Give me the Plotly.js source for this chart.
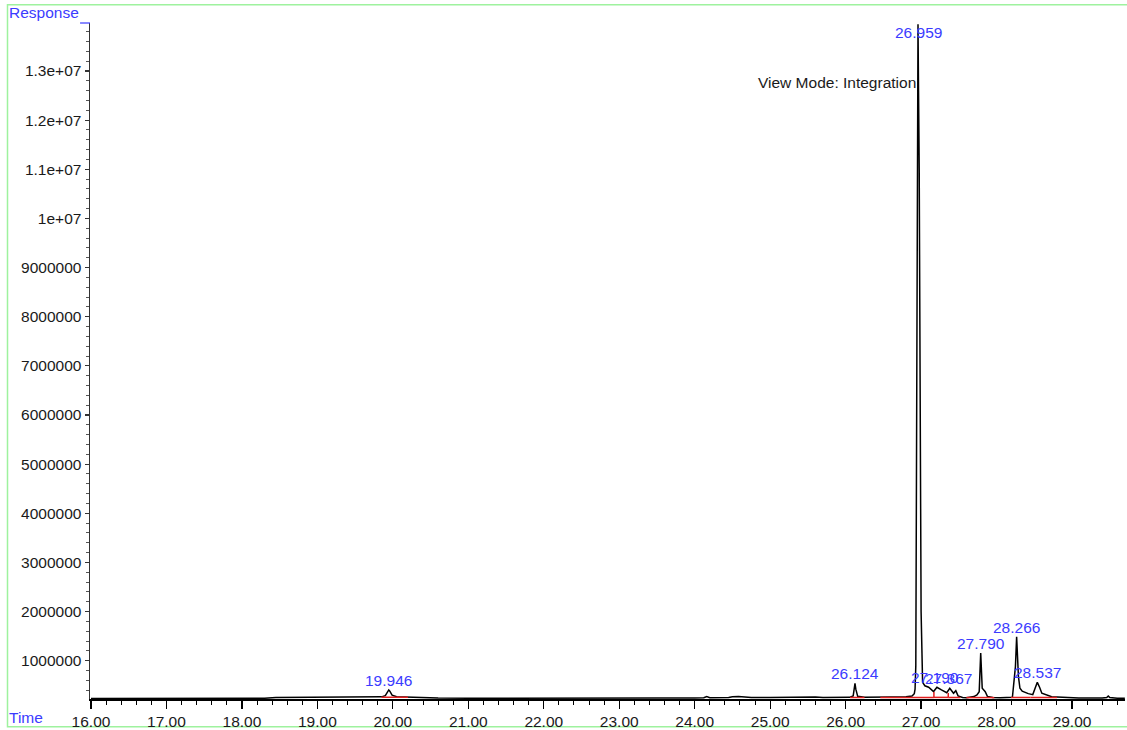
<!DOCTYPE html>
<html>
<head>
<meta charset="utf-8">
<script src="https://cdn.plot.ly/plotly-3.0.1.min.js"></script>
<style>html,body{margin:0;padding:0;background:#fff;}#chart{width:1127px;height:730px;}</style>
</head>
<body>
<div id="chart"></div>
<script>
// Chromatogram trace (time in minutes, response counts)
const times = [16.00, 17.00, 18.00, 18.30, 18.45, 18.80, 19.20, 19.60, 19.85, 19.90, 19.93, 19.946, 19.96, 19.99, 20.05, 20.20, 20.40, 20.60, 21.00, 21.50, 22.00, 22.50, 23.00, 23.50, 24.00, 24.12, 24.16, 24.20, 24.45, 24.50, 24.58, 24.68, 24.75, 25.00, 25.30, 25.42, 25.50, 25.60, 25.70, 25.90, 26.05, 26.10, 26.115, 26.124, 26.135, 26.16, 26.25, 26.40, 26.60, 26.80, 26.88, 26.91, 26.92, 26.93, 26.959, 26.966, 26.975, 27.000, 27.02, 27.05, 27.10, 27.165, 27.21, 27.27, 27.34, 27.38, 27.43, 27.46, 27.49, 27.55, 27.60, 27.70, 27.74, 27.77, 27.79, 27.81, 27.85, 27.88, 27.95, 28.05, 28.21, 28.25, 28.266, 28.29, 28.31, 28.34, 28.42, 28.48, 28.52, 28.54, 28.57, 28.60, 28.73, 28.90, 29.09, 29.40, 29.46, 29.48, 29.50, 29.60, 29.70];
const response = [232000, 233000, 234000, 236000, 252000, 258000, 262000, 262000, 265000, 290000, 370000, 405000, 380000, 300000, 268000, 258000, 250000, 242000, 238000, 236000, 236000, 236000, 238000, 240000, 242000, 248000, 272000, 248000, 250000, 268000, 272000, 262000, 250000, 250000, 252000, 265000, 268000, 262000, 252000, 252000, 255000, 285000, 470000, 540000, 420000, 275000, 258000, 255000, 260000, 268000, 280000, 330000, 420000, 900000, 13950000, 12600000, 11000000, 2000000, 560000, 490000, 460000, 372000, 460000, 405000, 350000, 438000, 338000, 390000, 285000, 252000, 245000, 270000, 305000, 370000, 1155000, 440000, 370000, 270000, 250000, 248000, 256000, 880000, 1488000, 675000, 440000, 380000, 330000, 310000, 460000, 560000, 460000, 338000, 268000, 250000, 240000, 240000, 252000, 282000, 250000, 238000, 236000];

// Integrated peaks
const peakTimes = [19.946, 26.124, 26.959, 27.190, 27.367, 27.790, 28.266, 28.537];
const peakLabels = ["19.946", "26.124", "26.959", "27.190", "27.367", "27.790", "28.266", "28.537"];

// Integration baselines (red)
const baseStart = [19.85, 26.06, 26.46, 27.17, 27.36, 27.60, 28.19, 28.45];
const baseEnd = [20.20, 26.25, 27.17, 27.36, 27.52, 27.97, 28.45, 28.80];
const baseStartVal = [258000, 252000, 252000, 254000, 254000, 250000, 252000, 252000];
const baseEndVal = [256000, 252000, 254000, 254000, 252000, 250000, 252000, 250000];
const dropTimes = [27.17, 27.36];
const dropTop = [365000, 345000];

// Axis ticks
const yTickVals = [1000000, 2000000, 3000000, 4000000, 5000000, 6000000, 7000000, 8000000, 9000000, 10000000, 11000000, 12000000, 13000000];
const yTickText = ["1000000", "2000000", "3000000", "4000000", "5000000", "6000000", "7000000", "8000000", "9000000", "1e+07", "1.1e+07", "1.2e+07", "1.3e+07"];

const BLUE = '#3b3bff';
const FONT = 'Liberation Sans, Arial, Helvetica, sans-serif';
const FS = 15.5;

// build red baseline trace
const bx = [], by = [];
for (let i = 0; i < baseStart.length; i++) {
  bx.push(baseStart[i], baseEnd[i], null);
  by.push(baseStartVal[i], baseEndVal[i], null);
}
for (let i = 0; i < dropTimes.length; i++) {
  let v = 253000;
  for (let k = 0; k < baseStart.length; k++) {
    if (dropTimes[i] >= baseStart[k] && dropTimes[i] <= baseEnd[k]) { v = baseStartVal[k]; break; }
  }
  bx.push(dropTimes[i], dropTimes[i], null);
  by.push(v, dropTop[i], null);
}

const traces = [
  {x: times, y: response, type: 'scatter', mode: 'lines', line: {color: '#000', width: 1.5}, hoverinfo: 'skip'},
  {x: bx, y: by, type: 'scatter', mode: 'lines', line: {color: '#e01e1e', width: 1.5}, hoverinfo: 'skip', connectgaps: false}
];

function apexAt(t) {
  let best = 0;
  for (let i = 0; i < times.length; i++) {
    if (Math.abs(times[i] - t) <= 0.025 && response[i] > best) best = response[i];
  }
  return best;
}

const YMAX = 13977000;
const annotations = peakTimes.map((t, i) => {
  const a = apexAt(t);
  if (a > 0.95 * YMAX) {
    return {x: t, y: a, xref: 'x', yref: 'y', text: peakLabels[i], showarrow: false,
      xanchor: 'center', yanchor: 'top', yshift: 2, font: {family: FONT, size: FS, color: BLUE}};
  }
  return {x: t, y: a, xref: 'x', yref: 'y', text: peakLabels[i], showarrow: false,
    xanchor: 'center', yanchor: 'bottom', yshift: -1, font: {family: FONT, size: FS, color: BLUE}};
});
annotations.push(
  {x: -0.0802, y: 1.0148, xref: 'paper', yref: 'paper', text: 'Response', showarrow: false,
   xanchor: 'left', yanchor: 'middle', font: {family: FONT, size: FS, color: BLUE}},
  {x: -0.0802, y: -0.0281, xref: 'paper', yref: 'paper', text: 'Time', showarrow: false,
   xanchor: 'left', yanchor: 'middle', font: {family: FONT, size: FS, color: BLUE}},
  {x: 26.955, y: 12760000, xref: 'x', yref: 'y', text: 'View Mode: Integration', showarrow: false,
   xanchor: 'right', yanchor: 'middle', font: {family: FONT, size: FS, color: '#1a1a1a'}}
);

const layout = {
  width: 1127, height: 730,
  margin: {l: 90, r: 2, t: 23, b: 31, pad: 0},
  paper_bgcolor: '#fff', plot_bgcolor: '#fff',
  showlegend: false,
  font: {family: FONT, size: FS, color: '#1a1a1a'},
  xaxis: {
    range: [15.987, 29.702], tickmode: 'linear', tick0: 16, dtick: 1, tickformat: '.2f',
    ticks: 'outside', ticklen: 8, tickwidth: 1.2, tickcolor: '#000',
    showline: true, linecolor: '#000', linewidth: 1.5, showgrid: false, zeroline: false,
    minor: {tickmode: 'linear', tick0: 16, dtick: 0.2, ticks: 'outside', ticklen: 4, tickwidth: 1, tickcolor: '#000', showgrid: false},
    tickfont: {family: FONT, size: FS, color: '#1a1a1a'}, fixedrange: true
  },
  yaxis: {
    range: [221000, YMAX], tickmode: 'array', tickvals: yTickVals, ticktext: yTickText,
    ticks: 'outside', ticklen: 4, tickwidth: 1.2, tickcolor: '#333',
    showline: true, linecolor: '#333', linewidth: 1.5, showgrid: false, zeroline: false,
    minor: {tickmode: 'linear', tick0: 0, dtick: 200000, ticks: 'outside', ticklen: 3, tickwidth: 1, tickcolor: '#555', showgrid: false},
    tickfont: {family: FONT, size: FS, color: '#1a1a1a'}, fixedrange: true
  },
  shapes: [
    {type: 'rect', xref: 'paper', yref: 'paper', x0: -0.0797, x1: 1.01, y0: -0.041, y1: 1.0271,
     line: {color: '#9ef29e', width: 1.5}, fillcolor: 'rgba(0,0,0,0)', layer: 'below'},
    {type: 'line', xref: 'paper', yref: 'paper', x0: -0.0096, x1: 0, y0: 1.0, y1: 1.0,
     line: {color: BLUE, width: 1.2}}
  ],
  annotations: annotations
};

Plotly.newPlot('chart', traces, layout, {displayModeBar: false, staticPlot: true});
</script>
</body>
</html>
